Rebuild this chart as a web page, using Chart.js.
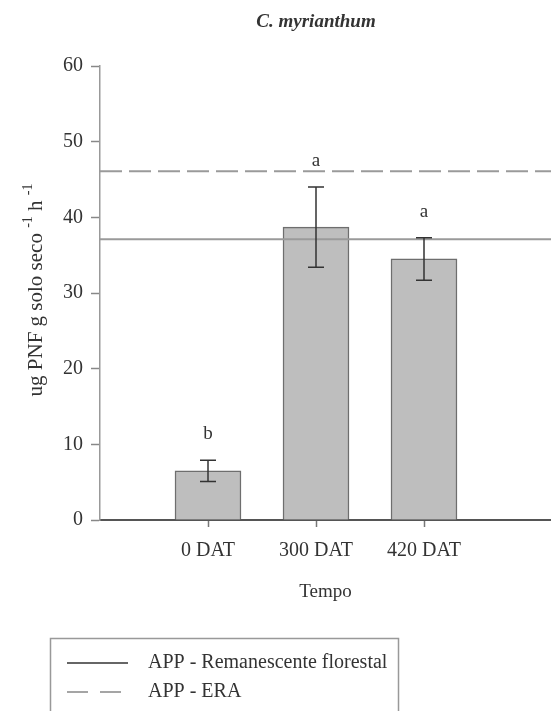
<!DOCTYPE html>
<html>
<head>
<meta charset="utf-8">
<script src="https://cdn.jsdelivr.net/npm/chart.js@4"></script>
<style>
  body { margin: 0; background: #fff; }
  #wrap { width: 551px; height: 711px; }
</style>
</head>
<body>
<div id="wrap"><canvas id="myChart" width="551" height="711"></canvas></div>
<script>
// dados
const categories = ['0 DAT', '300 DAT', '420 DAT'];
const means = [6.5, 38.7, 34.5];
const errors = [1.4, 5.3, 2.8];
const letters = ['b', 'a', 'a'];
const remanescente = [37.1, 37.1];
const era = [46.1, 46.1];
const yTickValues = [0, 10, 20, 30, 40, 50, 60];

const serif = '"Liberation Serif", "Times New Roman", serif';
const xMax = 451 / 108; // eixo x vai até a borda direita

// barras de erro + letras
const errorBarsPlugin = {
    id: 'errorBars',
    afterDatasetsDraw(chart) {
        const ctx = chart.ctx;
        const y = chart.scales.y;
        const meta = chart.getDatasetMeta(2);
        ctx.save();
        meta.data.forEach(function (bar, i) {
            const x = bar.x;
            const top = y.getPixelForValue(means[i] + errors[i]);
            const bottom = y.getPixelForValue(means[i] - errors[i]);
            ctx.strokeStyle = '#333';
            ctx.lineWidth = 1.5;
            ctx.beginPath();
            ctx.moveTo(x, top); ctx.lineTo(x, bottom);
            ctx.moveTo(x - 8, top); ctx.lineTo(x + 8, top);
            ctx.moveTo(x - 8, bottom); ctx.lineTo(x + 8, bottom);
            ctx.stroke();
            ctx.fillStyle = '#333';
            ctx.font = '19px ' + serif;
            ctx.textAlign = 'center';
            ctx.textBaseline = 'middle';
            ctx.fillText(letters[i], x, top - 26);
        });
        ctx.restore();
    }
};

// título, título do eixo y com sobrescritos, legenda
const decorPlugin = {
    id: 'decor',
    afterDraw(chart) {
        const ctx = chart.ctx;
        const xs = chart.scales.x;
        ctx.save();
        ctx.fillStyle = '#333';
        ctx.textBaseline = 'middle';

        // título
        ctx.font = 'italic bold 19px ' + serif;
        ctx.textAlign = 'center';
        ctx.fillText('C. myrianthum', xs.getPixelForValue(2), 22);

        // eixo y
        const parts = [
            { t: 'ug PNF g solo seco ', sup: false },
            { t: '-1', sup: true },
            { t: ' h ', sup: false },
            { t: '-1', sup: true }
        ];
        const big = '21px ' + serif, small = '14px ' + serif;
        let total = 0;
        parts.forEach(function (p) {
            ctx.font = p.sup ? small : big;
            p.w = ctx.measureText(p.t).width;
            total += p.w;
        });
        ctx.translate(36, 290);
        ctx.rotate(-Math.PI / 2);
        ctx.textAlign = 'left';
        let cx = -total / 2;
        parts.forEach(function (p) {
            ctx.font = p.sup ? small : big;
            ctx.fillText(p.t, cx, p.sup ? -8 : 0);
            cx += p.w;
        });
        ctx.setTransform(1, 0, 0, 1, 0, 0);

        // legenda
        ctx.strokeStyle = '#999';
        ctx.lineWidth = 1.5;
        ctx.strokeRect(50.5, 638.5, 348, 120);
        const rows = [
            { label: chart.data.datasets[0].label, y: 663, dash: [], color: '#333' },
            { label: chart.data.datasets[1].label, y: 692, dash: [21, 12], color: '#888' }
        ];
        rows.forEach(function (r) {
            ctx.strokeStyle = r.color;
            ctx.lineWidth = 1.5;
            ctx.setLineDash(r.dash);
            ctx.beginPath();
            ctx.moveTo(67, r.y); ctx.lineTo(128, r.y);
            ctx.stroke();
            ctx.setLineDash([]);
            ctx.font = '20px ' + serif;
            ctx.fillStyle = '#333';
            ctx.textAlign = 'left';
            ctx.fillText(r.label, 148, r.y);
        });
        ctx.restore();
    }
};

const ctx = document.getElementById('myChart').getContext('2d');
new Chart(ctx, {
    data: {
        datasets: [
            {
                type: 'line',
                label: 'APP - Remanescente florestal',
                data: [{ x: 0, y: remanescente[0] }, { x: xMax, y: remanescente[1] }],
                borderColor: '#9a9a9a',
                borderWidth: 2,
                pointRadius: 0,
                order: 0
            },
            {
                type: 'line',
                label: 'APP - ERA',
                data: [{ x: 0, y: era[0] }, { x: xMax, y: era[1] }],
                borderColor: '#9a9a9a',
                borderWidth: 2,
                borderDash: [22, 7],
                pointRadius: 0,
                order: 0
            },
            {
                type: 'bar',
                label: 'Tempo',
                data: means.map((m, i) => ({ x: i + 1, y: m })),
                backgroundColor: '#bebebe',
                borderColor: '#6e6e6e',
                borderWidth: 1.5,
                barThickness: 66,
                order: 1
            }
        ]
    },
    options: {
        responsive: false,
        animation: false,
        layout: { padding: { top: 66, left: 0, right: 0, bottom: 0 } },
        plugins: {
            legend: { display: false },
            tooltip: { enabled: false },
            title: { display: false }
        },
        scales: {
            x: {
                type: 'linear',
                min: 0,
                max: xMax,
                offset: false,
                afterBuildTicks: function (scale) {
                    scale.ticks = categories.map((c, i) => ({ value: i + 1 }));
                },
                afterFit: function (scale) { scale.height = 191; },
                ticks: {
                    callback: function (value) { return categories[value - 1]; },
                    font: { family: serif, size: 20 },
                    color: '#333',
                    padding: 12,
                    maxRotation: 0,
                    autoSkip: false
                },
                grid: {
                    offset: false,
                    drawOnChartArea: false,
                    tickLength: 7,
                    tickColor: '#777',
                    tickWidth: 1.5
                },
                border: { color: '#555', width: 2 },
                title: {
                    display: true,
                    text: 'Tempo',
                    font: { family: serif, size: 19 },
                    color: '#333',
                    padding: { top: 0, bottom: 108 }
                }
            },
            y: {
                min: 0,
                max: 60,
                afterBuildTicks: function (scale) {
                    scale.ticks = yTickValues.map(v => ({ value: v }));
                },
                afterFit: function (scale) { scale.width = 100; },
                ticks: {
                    font: { family: serif, size: 20 },
                    color: '#333',
                    padding: 8
                },
                grid: {
                    drawOnChartArea: false,
                    tickLength: 9,
                    tickColor: '#888',
                    tickWidth: 1.5
                },
                border: { color: '#999', width: 1.5 }
            }
        }
    },
    plugins: [errorBarsPlugin, decorPlugin]
});
</script>
</body>
</html>
